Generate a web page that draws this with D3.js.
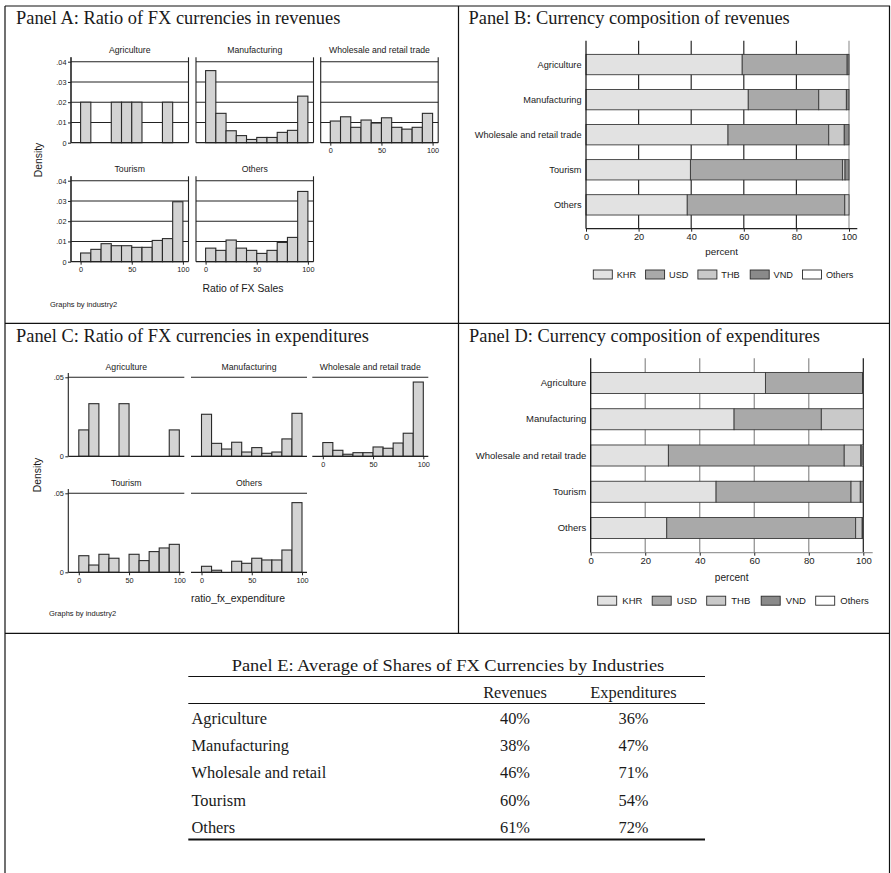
<!DOCTYPE html>
<html>
<head>
<meta charset="utf-8">
<script src="https://cdn.jsdelivr.net/npm/d3@7"></script>
<style>
  html, body { margin: 0; padding: 0; background: #fff; }
  svg { display: block; }
  .sans { font-family: "Liberation Sans", Arial, sans-serif; fill: #1a1a1a; }
  .serif { font-family: "Liberation Serif", "Times New Roman", serif; fill: #1a1a1a; }
</style>
</head>
<body>
<svg id="fig" width="891" height="873"></svg>
<script>
// ---- Industries ----
const industries = ["Agriculture", "Manufacturing", "Wholesale and retail trade", "Tourism", "Others"];

// ---- Histogram bins (percent of FX, width 10) ----
const binStarts = [0, 10, 20, 30, 40, 50, 60, 70, 80, 90];
const binWidth = 10;

// Panel A: density of FX ratio in revenues
const revAgriculture   = [0.02, 0, 0, 0.02, 0.02, 0.02, 0, 0, 0.02, 0];
const revManufacturing = [0.0356, 0.0145, 0.0059, 0.0035, 0.0016, 0.0026, 0.0026, 0.0051, 0.0061, 0.023];
const revWholesale     = [0.0107, 0.0128, 0.0076, 0.0112, 0.0097, 0.0123, 0.0076, 0.0067, 0.0076, 0.0145];
const revTourism       = [0.0043, 0.0061, 0.0089, 0.0079, 0.0079, 0.0071, 0.0071, 0.0105, 0.0114, 0.0296];
const revOthers        = [0.0067, 0.0056, 0.0107, 0.0067, 0.0056, 0.0041, 0.0056, 0.0095, 0.012, 0.0347];
const revYTicks = [0, 0.01, 0.02, 0.03, 0.04];

// Panel C: density of FX ratio in expenditures
const expAgriculture   = [0.0167, 0.0333, 0, 0, 0.0333, 0, 0, 0, 0, 0.0167];
const expManufacturing = [0.0266, 0.0082, 0.0046, 0.0089, 0.0027, 0.0055, 0.0019, 0.0027, 0.011, 0.0272];
const expWholesale     = [0.0087, 0.0038, 0.0013, 0.0023, 0.0023, 0.0059, 0.0051, 0.0084, 0.0146, 0.047];
const expTourism       = [0.0105, 0.0046, 0.0114, 0.0089, 0, 0.0114, 0.0074, 0.0131, 0.0154, 0.0177];
const expOthers        = [0.0038, 0.0013, 0, 0.007, 0.0057, 0.0089, 0.0078, 0.0078, 0.0141, 0.0441];
const expYTicks = [0, 0.05];

const xTicks = [0, 50, 100];

// ---- Currency composition (percent) ----
const currencies = ["KHR", "USD", "THB", "VND", "Others"];
const currencyColors = ["#e2e2e2", "#a9a9a9", "#c9c9c9", "#8a8a8a", "#ffffff"];

// Panel B: revenues
const revKHR = [59.4, 61.7, 54.0, 39.7, 38.5];
const revUSD = [39.9, 26.8, 38.3, 57.8, 59.9];
const revTHB = [0, 10.5, 5.9, 1.0, 1.6];
const revVND = [0.7, 1.0, 1.8, 1.5, 0];
const revOth = [0, 0, 0, 0, 0];

// Panel D: expenditures
const expKHR = [64.1, 52.6, 28.5, 46.0, 27.9];
const expUSD = [35.6, 32.0, 64.5, 49.5, 69.3];
const expTHB = [0, 15.4, 6.1, 3.4, 2.4];
const expVND = [0.3, 0, 0.5, 1.1, 0.3];
const expOth = [0, 0, 0.4, 0, 0.1];

const pctTicks = [0, 20, 40, 60, 80, 100];

// ---- Panel E table ----
const tableRows = ["Agriculture", "Manufacturing", "Wholesale and retail", "Tourism", "Others"];
const tableRevenues = [40, 38, 46, 60, 61];
const tableExpenditures = [36, 47, 71, 54, 72];

const svg = d3.select("#fig");
const fmtDensity = v => v === 0 ? "0" : d3.format(".2f")(v).replace(/^0/, "");

// ---------- Frame ----------
const frame = svg.append("g").attr("stroke", "#111").attr("stroke-width", 1.2).attr("fill", "none");
frame.append("line").attr("x1", 5).attr("x2", 890).attr("y1", 6).attr("y2", 6);
frame.append("line").attr("x1", 5).attr("x2", 5).attr("y1", 6).attr("y2", 873);
frame.append("line").attr("x1", 889.5).attr("x2", 889.5).attr("y1", 6).attr("y2", 873);
frame.append("line").attr("x1", 5).attr("x2", 890).attr("y1", 323.3).attr("y2", 323.3);
frame.append("line").attr("x1", 5).attr("x2", 890).attr("y1", 633.3).attr("y2", 633.3);
frame.append("line").attr("x1", 458.5).attr("x2", 458.5).attr("y1", 6).attr("y2", 633.3);

function panelTitle(x, y, text) {
  svg.append("text").attr("class", "serif").attr("x", x).attr("y", y)
    .attr("font-size", 18.4).text(text);
}
panelTitle(16, 23.5, "Panel A: Ratio of FX currencies in revenues");
panelTitle(468.5, 23.5, "Panel B: Currency composition of revenues");
panelTitle(16, 341.7, "Panel C: Ratio of FX currencies in expenditures");
panelTitle(469, 341.7, "Panel D: Currency composition of expenditures");

// ---------- Histogram grid (by industry) ----------
function histogramPanel(opt) {
  const g = svg.append("g");
  opt.cells.forEach((cell, i) => {
    const col = i % 3, row = Math.floor(i / 3);
    const left = opt.colX[col], right = left + opt.cellW;
    const [yTop, yZero] = opt.rowY[row];
    const x = d3.scaleLinear().domain([0, 100]).range([left + opt.xOffset, left + opt.xOffset + opt.xSpan]);
    const y = d3.scaleLinear().domain([0, opt.yMax]).range([yZero, yTop]);
    const c = g.append("g");

    // header
    c.append("text").attr("class", "sans").attr("x", (left + right) / 2).attr("y", opt.headerY[row])
      .attr("text-anchor", "middle").attr("font-size", 8.7).text(cell.name);

    // horizontal grid lines at labelled ticks
    c.selectAll("line.grid").data(opt.yTicks.filter(t => t > 0)).join("line")
      .attr("x1", left).attr("x2", right).attr("y1", d => y(d)).attr("y2", d => y(d))
      .attr("stroke", "#222").attr("stroke-width", 1.1);

    // cell side borders
    if (opt.sideBorders) {
      [left, right].forEach(bx => c.append("line").attr("x1", bx).attr("x2", bx)
        .attr("y1", yTop - 4.4).attr("y2", yZero).attr("stroke", "#222").attr("stroke-width", 1.1));
    }

    // bars
    const bins = binStarts.map((b, k) => ({ x0: b, x1: b + binWidth, v: cell.data[k] })).filter(d => d.v > 0);
    c.selectAll("rect").data(bins).join("rect")
      .attr("x", d => x(d.x0)).attr("width", d => x(d.x1) - x(d.x0))
      .attr("y", d => y(d.v)).attr("height", d => y(0) - y(d.v))
      .attr("fill", "#d3d3d3").attr("stroke", "#2a2a2a").attr("stroke-width", 1.1);

    // baseline
    c.append("line").attr("x1", left).attr("x2", right).attr("y1", yZero).attr("y2", yZero)
      .attr("stroke", "#222").attr("stroke-width", 1.2);

    // y axis on first column
    if (col === 0) {
      const ya = c.append("g").attr("transform", `translate(${left},0)`)
        .call(d3.axisLeft(y).tickValues(opt.yTicks).tickFormat(fmtDensity).tickSize(3).tickPadding(1.5));
      ya.select(".domain").attr("d", `M0,${yZero}V${yTop - 4.4}`).attr("stroke", "#222").attr("stroke-width", 1.1);
      ya.selectAll(".tick line").attr("stroke", "#222");
      ya.selectAll(".tick text").attr("class", "sans").attr("font-size", 7.3).attr("font-family", null).attr("fill", "#1a1a1a");
    }
    // x axis where no cell sits below
    if (cell.xAxis) {
      const xa = c.append("g").attr("transform", `translate(0,${yZero})`)
        .call(d3.axisBottom(x).tickValues(xTicks).tickSize(3).tickPadding(2.5));
      xa.select(".domain").remove();
      xa.selectAll(".tick line").attr("stroke", "#222");
      xa.selectAll(".tick text").attr("class", "sans").attr("font-size", 7.3).attr("font-family", null).attr("fill", "#1a1a1a");
    }
  });

  svg.append("text").attr("class", "sans").attr("font-size", 10.4)
    .attr("transform", `translate(${opt.densityX},${opt.densityY}) rotate(-90)`)
    .attr("text-anchor", "middle").attr("dominant-baseline", "central").text("Density");
  svg.append("text").attr("class", "sans").attr("font-size", 10.4)
    .attr("x", opt.xTitle[0]).attr("y", opt.xTitle[1]).attr("text-anchor", "middle")
    .attr("dominant-baseline", "central").text(opt.xTitleText);
  svg.append("text").attr("class", "sans").attr("font-size", 7.5)
    .attr("x", opt.note[0]).attr("y", opt.note[1]).attr("dominant-baseline", "central").text("Graphs by industry2");
}

histogramPanel({
  cells: [
    { name: industries[0], data: revAgriculture },
    { name: industries[1], data: revManufacturing },
    { name: industries[2], data: revWholesale, xAxis: true },
    { name: industries[3], data: revTourism, xAxis: true },
    { name: industries[4], data: revOthers, xAxis: true }
  ],
  colX: [71, 196, 320.7], cellW: 117.5,
  rowY: [[61.7, 142.7], [180.7, 261.7]], headerY: [53, 171.5],
  xOffset: 9.6, xSpan: 102.3,
  yMax: 0.04, yTicks: revYTicks, sideBorders: true,
  densityX: 38, densityY: 160,
  xTitle: [243, 288], xTitleText: "Ratio of FX Sales",
  note: [50, 304]
});

histogramPanel({
  cells: [
    { name: industries[0], data: expAgriculture },
    { name: industries[1], data: expManufacturing },
    { name: industries[2], data: expWholesale, xAxis: true },
    { name: industries[3], data: expTourism, xAxis: true },
    { name: industries[4], data: expOthers, xAxis: true }
  ],
  colX: [68.3, 191, 312.3], cellW: 116,
  rowY: [[377.3, 456.3], [493.3, 572.3]], headerY: [369.5, 485.5],
  xOffset: 10.5, xSpan: 100.5,
  yMax: 0.05, yTicks: expYTicks, sideBorders: false,
  densityX: 37, densityY: 475,
  xTitle: [238, 598.5], xTitleText: "ratio_fx_expenditure",
  note: [49, 613.5]
});

// ---------- Stacked horizontal bars ----------
function stackedPanel(opt) {
  const g = svg.append("g");
  const rows = industries.map((name, i) => {
    const r = { name };
    currencies.forEach((c, k) => r[c] = opt.series[k][i]);
    return r;
  });
  const stacked = d3.stack().keys(currencies)(rows);
  const x = d3.scaleLinear().domain([0, 100]).range([opt.x0, opt.x1]);
  const y = d3.scaleBand().domain(industries).range([opt.yTop, opt.yBottom]).paddingInner(0.42).paddingOuter(0.39);

  // vertical grid lines
  g.selectAll("line.grid").data(pctTicks.filter(t => t > 0)).join("line")
    .attr("x1", d => x(d)).attr("x2", d => x(d)).attr("y1", opt.yTop).attr("y2", opt.yBottom)
    .attr("stroke", d => d === 100 ? opt.gridLast : opt.grid).attr("stroke-width", 1.2);

  // segments
  stacked.forEach((layer, k) => {
    g.append("g").selectAll("rect").data(layer.filter(d => d[1] - d[0] > 0)).join("rect")
      .attr("x", d => x(d[0])).attr("width", d => x(d[1]) - x(d[0]))
      .attr("y", d => y(d.data.name)).attr("height", y.bandwidth())
      .attr("fill", currencyColors[k]).attr("stroke", "#3a3a3a").attr("stroke-width", 0.9);
  });

  // y axis
  const ya = g.append("g").attr("transform", `translate(${opt.x0},0)`)
    .call(d3.axisLeft(y).tickSize(0).tickPadding(4.5));
  ya.select(".domain").attr("d", `M0,${opt.yTop}V${opt.yBottom}`).attr("stroke", "#111").attr("stroke-width", 1.2);
  ya.selectAll(".tick text").attr("class", "sans").attr("font-size", opt.labelSize).attr("font-family", null).attr("fill", "#1a1a1a");

  // x axis
  const xa = g.append("g").attr("transform", `translate(0,${opt.yBottom})`)
    .call(d3.axisBottom(x).tickValues(pctTicks).tickSize(3).tickPadding(2));
  xa.select(".domain").attr("d", `M${opt.x0},0H${opt.axisEnd}`).attr("stroke", opt.xAxisColor).attr("stroke-width", 1.3);
  xa.selectAll(".tick line").attr("stroke", "#222");
  xa.selectAll(".tick text").attr("class", "sans").attr("font-size", opt.labelSize).attr("font-family", null).attr("fill", "#1a1a1a");

  g.append("text").attr("class", "sans").attr("font-size", opt.labelSize + 0.6)
    .attr("x", (opt.x0 + opt.axisEnd) / 2).attr("y", opt.titleY).attr("text-anchor", "middle")
    .attr("dominant-baseline", "central").text("percent");

  // legend
  const lg = g.append("g");
  currencies.forEach((c, k) => {
    const lx = opt.legendX + k * opt.legendStep;
    lg.append("rect").attr("x", lx).attr("y", opt.legendY - 4.5).attr("width", 19).attr("height", 9)
      .attr("fill", currencyColors[k]).attr("stroke", "#2a2a2a").attr("stroke-width", 0.9);
    lg.append("text").attr("class", "sans").attr("font-size", opt.labelSize)
      .attr("x", lx + opt.legendText).attr("y", opt.legendY).attr("dominant-baseline", "central").text(c);
  });
}

stackedPanel({
  series: [revKHR, revUSD, revTHB, revVND, revOth],
  x0: 586, x1: 849, axisEnd: 857.3, yTop: 40.7, yBottom: 228.7,
  grid: "#2a2a2a", gridLast: "#9a9a9a", xAxisColor: "#222",
  labelSize: 9.2, titleY: 251.7,
  legendX: 593.3, legendStep: 52.3, legendText: 23.4, legendY: 274.5
});

stackedPanel({
  series: [expKHR, expUSD, expTHB, expVND, expOth],
  x0: 590.7, x1: 863.3, axisEnd: 872.7, yTop: 358.3, yBottom: 552.7,
  grid: "#8c8c8c", gridLast: "#1a1a1a", xAxisColor: "#9a9a9a",
  labelSize: 9.5, titleY: 577.3,
  legendX: 597.7, legendStep: 54.5, legendText: 24.6, legendY: 600.7
});

// ---------- Panel E: summary table ----------
const tbl = svg.append("g");
const tx0 = 188.3, tx1 = 705;
const colRev = 515, colExp = 633.5;
tbl.append("text").attr("class", "serif").attr("font-size", 16.4)
  .attr("x", 231.7).attr("y", 670.7)
  .attr("textLength", 432.6).attr("lengthAdjust", "spacingAndGlyphs")
  .text("Panel E: Average of Shares of FX Currencies by Industries");
tbl.append("line").attr("x1", tx0).attr("x2", tx1).attr("y1", 676.5).attr("y2", 676.5).attr("stroke", "#111").attr("stroke-width", 1.1);
tbl.append("text").attr("class", "serif").attr("font-size", 16.4).attr("x", colRev).attr("y", 697.7).attr("text-anchor", "middle").text("Revenues");
tbl.append("text").attr("class", "serif").attr("font-size", 16.4).attr("x", colExp).attr("y", 697.7).attr("text-anchor", "middle").text("Expenditures");
tbl.append("line").attr("x1", tx0).attr("x2", tx1).attr("y1", 703.5).attr("y2", 703.5).attr("stroke", "#111").attr("stroke-width", 1.1);

const rowY = d3.scalePoint().domain(tableRows).range([724, 832.7]);
const pct = d3.format("d");
tableRows.forEach((r, i) => {
  tbl.append("text").attr("class", "serif").attr("font-size", 16.4).attr("x", 191.5).attr("y", rowY(r)).text(r);
  tbl.append("text").attr("class", "serif").attr("font-size", 16.4).attr("x", colRev).attr("y", rowY(r))
    .attr("text-anchor", "middle").text(pct(tableRevenues[i]) + "%");
  tbl.append("text").attr("class", "serif").attr("font-size", 16.4).attr("x", colExp).attr("y", rowY(r))
    .attr("text-anchor", "middle").text(pct(tableExpenditures[i]) + "%");
});
tbl.append("line").attr("x1", tx0).attr("x2", tx1).attr("y1", 839.5).attr("y2", 839.5).attr("stroke", "#111").attr("stroke-width", 2.2);
</script>
</body>
</html>
